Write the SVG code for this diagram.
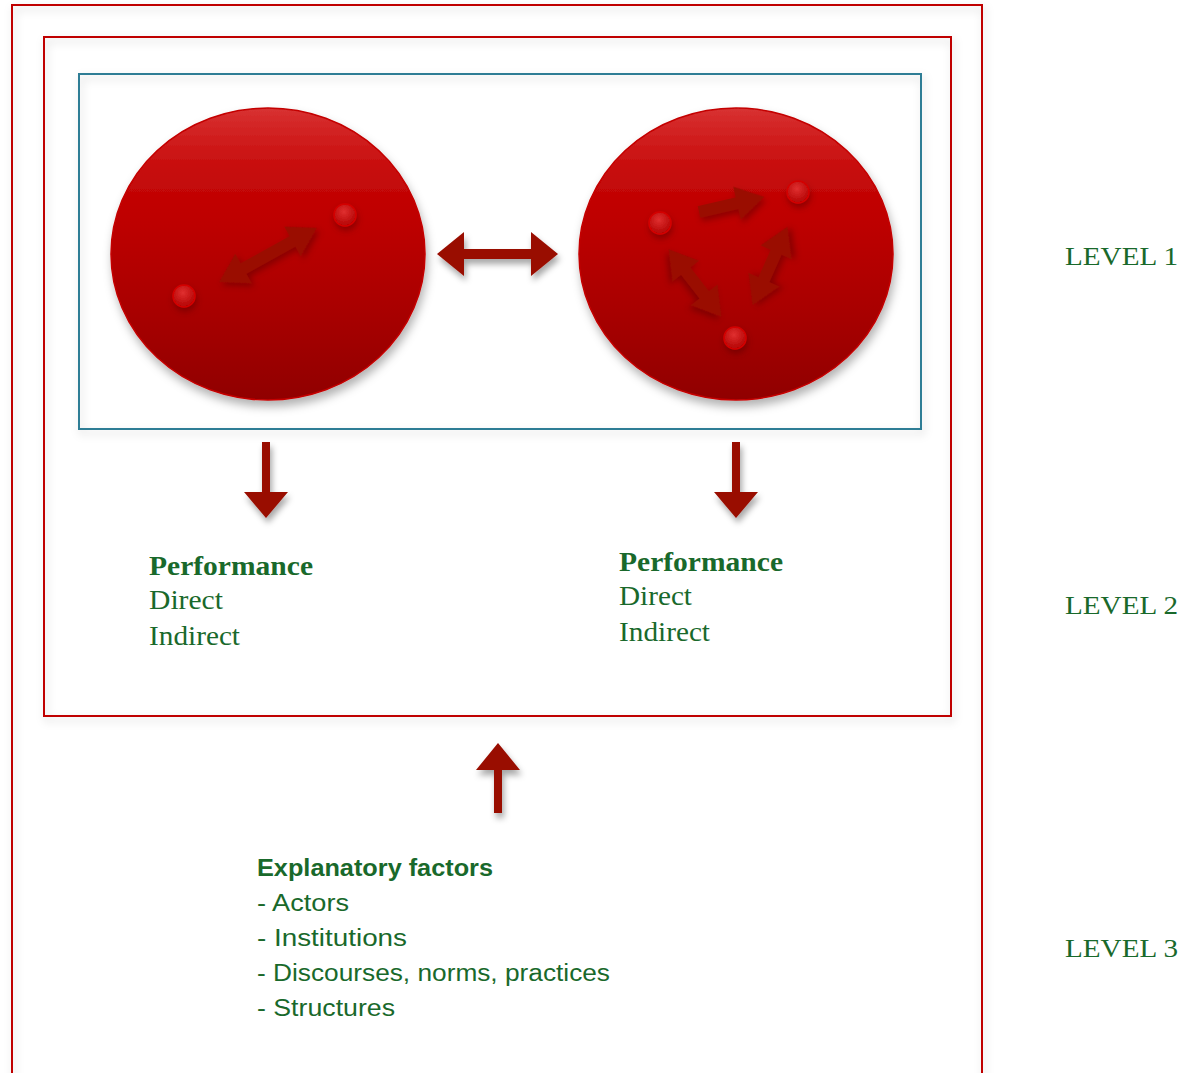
<svg xmlns="http://www.w3.org/2000/svg" width="1185" height="1073" viewBox="0 0 1185 1073">
<defs>
  <filter id="boxShadow" x="-5%" y="-5%" width="110%" height="110%">
    <feDropShadow dx="2" dy="4" stdDeviation="4" flood-color="#000" flood-opacity="0.18"/>
  </filter>
  <filter id="arrowShadow" x="-50%" y="-50%" width="200%" height="200%">
    <feDropShadow dx="2" dy="5" stdDeviation="3" flood-color="#000" flood-opacity="0.35"/>
  </filter>
  <filter id="innerShadow" x="-50%" y="-50%" width="200%" height="200%">
    <feDropShadow dx="1" dy="4" stdDeviation="3" flood-color="#500000" flood-opacity="0.45"/>
  </filter>
  <filter id="circleShadow" x="-10%" y="-10%" width="120%" height="125%">
    <feDropShadow dx="2" dy="6" stdDeviation="5" flood-color="#000" flood-opacity="0.3"/>
  </filter>
  <linearGradient id="ballGrad" x1="0" y1="0" x2="0" y2="1">
    <stop offset="0" stop-color="#d83232"/>
    <stop offset="0.1" stop-color="#d01e1e"/>
    <stop offset="0.22" stop-color="#c60a0a"/>
    <stop offset="0.4" stop-color="#bd0000"/>
    <stop offset="0.7" stop-color="#a80000"/>
    <stop offset="1" stop-color="#900000"/>
  </linearGradient>
  <radialGradient id="dotGrad" cx="0.45" cy="0.35" r="0.7">
    <stop offset="0" stop-color="#e03030"/>
    <stop offset="1" stop-color="#b00000"/>
  </radialGradient>
  <style>
    .frame { fill: none; stroke: #c00000; stroke-width: 2; }
    .inner { fill: none; stroke: #2e7d95; stroke-width: 2; }
    .ball { fill: url(#ballGrad); stroke: #c40000; stroke-width: 1.5; }
    .dot { fill: url(#dotGrad); stroke: #d40000; stroke-width: 1.5; }
    .arrow { fill: #990e00; }
    .iarrow { fill: #9a0a00; }
    .perf { font-family: "Liberation Serif", "Times New Roman", serif; font-size: 27px; fill: #19692b; }
    .expl { font-family: "Liberation Sans", Arial, sans-serif; font-size: 23px; fill: #19692b; }
    .level { font-family: "Liberation Serif", "Times New Roman", serif; font-size: 25px; fill: #19692b; }
  </style>
</defs>
<rect width="1185" height="1073" fill="#ffffff"/>

<g id="level3-frame">
  <rect class="frame" x="12" y="5" width="970" height="1090" filter="url(#boxShadow)"/>
</g>
<g id="level2-frame">
  <rect class="frame" x="44" y="37" width="907" height="679" filter="url(#boxShadow)"/>
</g>
<g id="level1-frame">
  <rect class="inner" x="79" y="74" width="842" height="355" fill="#ffffff" filter="url(#boxShadow)"/>
</g>

<g id="circle-left">
  <ellipse class="ball" cx="268" cy="254" rx="157" ry="146" filter="url(#circleShadow)"/>
  <circle class="dot" cx="184" cy="296" r="11" filter="url(#innerShadow)"/>
  <circle class="dot" cx="345" cy="215" r="11" filter="url(#innerShadow)"/>
  <polygon class="iarrow" filter="url(#innerShadow)" transform="translate(268,255) rotate(-29)" points="-56,0 -28,-17 -28,-6 28,-6 28,-17 56,0 28,17 28,6 -28,6 -28,17"/>
</g>

<g id="circle-right">
  <ellipse class="ball" cx="736" cy="254" rx="157" ry="146" filter="url(#circleShadow)"/>
  <circle class="dot" cx="660" cy="223" r="11" filter="url(#innerShadow)"/>
  <circle class="dot" cx="798" cy="192" r="11" filter="url(#innerShadow)"/>
  <circle class="dot" cx="735" cy="338" r="11" filter="url(#innerShadow)"/>
  <polygon class="iarrow" filter="url(#innerShadow)" transform="translate(699,212) rotate(-13)" points="0,-6 39,-6 39,-17 67,0 39,17 39,6 0,6"/>
  <polygon class="iarrow" filter="url(#innerShadow)" transform="translate(695,283) rotate(52)" points="-43,0 -15,-17 -15,-6 15,-6 15,-17 43,0 15,17 15,6 -15,6 -15,17"/>
  <polygon class="iarrow" filter="url(#innerShadow)" transform="translate(770,266) rotate(-66)" points="-43,0 -15,-17 -15,-6 15,-6 15,-17 43,0 15,17 15,6 -15,6 -15,17"/>
</g>

<g id="connectors">
  <polygon class="arrow" filter="url(#arrowShadow)" points="437,254 464,232 464,249 531,249 531,232 558,254 531,276 531,259 464,259 464,276"/>
  <polygon class="arrow" filter="url(#arrowShadow)" points="262,442 270,442 270,492 288,492 266,518 244,492 262,492"/>
  <polygon class="arrow" filter="url(#arrowShadow)" points="732,442 740,442 740,492 758,492 736,518 714,492 732,492"/>
  <polygon class="arrow" filter="url(#arrowShadow)" points="494,813 502,813 502,770 520,770 498,743 476,770 494,770"/>
</g>

<g id="performance-left">
  <text class="perf" x="149" y="575" font-weight="bold" textLength="164" lengthAdjust="spacingAndGlyphs">Performance</text>
  <text class="perf" x="149" y="609" textLength="74" lengthAdjust="spacingAndGlyphs">Direct</text>
  <text class="perf" x="149" y="645" textLength="91" lengthAdjust="spacingAndGlyphs">Indirect</text>
</g>
<g id="performance-right">
  <text class="perf" x="619" y="571" font-weight="bold" textLength="164" lengthAdjust="spacingAndGlyphs">Performance</text>
  <text class="perf" x="619" y="605" textLength="73" lengthAdjust="spacingAndGlyphs">Direct</text>
  <text class="perf" x="619" y="641" textLength="91" lengthAdjust="spacingAndGlyphs">Indirect</text>
</g>

<g id="explanatory-factors">
  <text class="expl" x="257" y="876" font-weight="bold" textLength="236" lengthAdjust="spacingAndGlyphs">Explanatory factors</text>
  <text class="expl" x="257" y="911" textLength="92" lengthAdjust="spacingAndGlyphs">- Actors</text>
  <text class="expl" x="257" y="946" textLength="150" lengthAdjust="spacingAndGlyphs">- Institutions</text>
  <text class="expl" x="257" y="981" textLength="353" lengthAdjust="spacingAndGlyphs">- Discourses, norms, practices</text>
  <text class="expl" x="257" y="1016" textLength="138" lengthAdjust="spacingAndGlyphs">- Structures</text>
</g>

<g id="levels">
  <text class="level" x="1065" y="265" textLength="113" lengthAdjust="spacingAndGlyphs">LEVEL 1</text>
  <text class="level" x="1065" y="614" textLength="113" lengthAdjust="spacingAndGlyphs">LEVEL 2</text>
  <text class="level" x="1065" y="957" textLength="113" lengthAdjust="spacingAndGlyphs">LEVEL 3</text>
</g>
</svg>
